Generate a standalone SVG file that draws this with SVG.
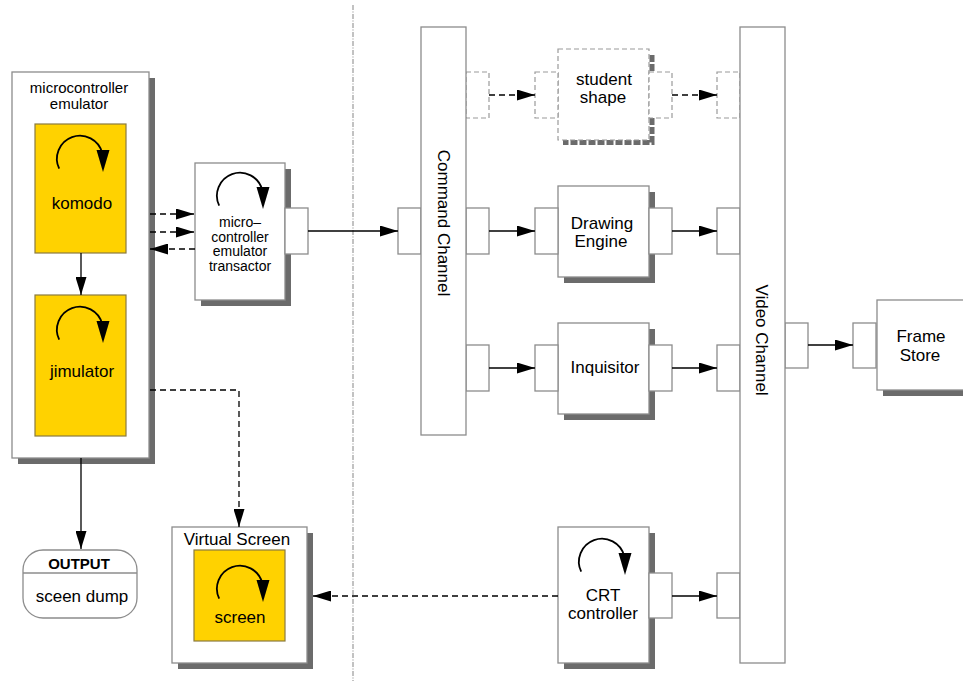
<svg xmlns="http://www.w3.org/2000/svg" width="963" height="681" viewBox="0 0 963 681">
<defs>
<style>
text{font-family:"Liberation Sans",Arial,Helvetica,sans-serif;fill:#000}
.box{fill:#fff;stroke:#8c8c8c;stroke-width:1.3}
.shadow{fill:#6b6b6b}
.yellow{fill:#FFD200;stroke:#8a7b40;stroke-width:1.2}
.port{fill:#fff;stroke:#8c8c8c;stroke-width:1.3}
.dport{fill:#fff;stroke:#9a9a9a;stroke-width:1.2;stroke-dasharray:5 3}
.conn{stroke:#000;stroke-width:1.3;fill:none}
.dconn{stroke:#000;stroke-width:1.3;fill:none;stroke-dasharray:6 4}
.t17{font-size:17px;text-anchor:middle}
.t15{font-size:15px;text-anchor:middle}
.t14{font-size:14px;text-anchor:middle}
.cyc{fill:none;stroke:#000;stroke-width:1.8}
</style>
<marker id="arr" markerUnits="userSpaceOnUse" markerWidth="18" markerHeight="11" refX="18" refY="5.5" orient="auto">
<path d="M0,0 L18,5.5 L0,11 z" fill="#000"/>
</marker>
<g id="cycle">
<path class="cyc" d="M-20.8,9.7 A23,23 0 1 1 22.2,-6"/>
<path d="M16.5,-9 L29.5,-9 L23,13 z" fill="#000"/>
</g>
</defs>
<rect width="963" height="681" fill="#fff"/>

<line x1="353" y1="5" x2="353" y2="681" stroke="#9a9a9a" stroke-width="1.2" stroke-dasharray="5 1.5 1 1.5"/>

<g id="microcontroller-emulator">
<rect class="shadow" x="18" y="78" width="137" height="386"/>
<rect class="box" x="12" y="72" width="137" height="386"/>
<text class="t15" x="79" y="93">microcontroller</text>
<text class="t15" x="79" y="109">emulator</text>
</g>
<g id="komodo">
<rect class="yellow" x="35" y="124" width="91" height="129"/>
<use href="#cycle" x="80" y="159"/>
<text class="t17" x="82" y="209">komodo</text>
</g>
<g id="jimulator">
<rect class="yellow" x="35" y="295" width="91" height="141"/>
<use href="#cycle" x="80" y="330"/>
<text class="t17" x="82" y="377">jimulator</text>
</g>

<g id="output">
<rect class="box" x="23" y="550" width="114" height="68" rx="20" ry="20"/>
<line x1="23" y1="573" x2="137" y2="573" stroke="#8c8c8c" stroke-width="1.3"/>
<text x="79" y="569" font-size="15" font-weight="bold" text-anchor="middle">OUTPUT</text>
<text class="t17" x="82" y="602">sceen dump</text>
</g>

<g id="transactor">
<rect class="shadow" x="201" y="169" width="90" height="137"/>
<rect class="box" x="195" y="163" width="90" height="137"/>
<rect class="port" x="285" y="208" width="23" height="46"/>
<use href="#cycle" x="240" y="196"/>
<text class="t14" x="240" y="227">micro–</text>
<text class="t14" x="240" y="241.5">controller</text>
<text class="t14" x="240" y="256">emulator</text>
<text class="t14" x="240" y="270.5">transactor</text>
</g>

<g id="virtual-screen">
<rect class="shadow" x="178" y="533" width="135" height="136"/>
<rect class="box" x="172" y="527" width="135" height="136"/>
<text class="t17" x="237" y="545">Virtual Screen</text>
<rect class="yellow" x="194" y="550" width="91" height="91"/>
<use href="#cycle" x="240" y="589"/>
<text class="t17" x="240" y="623">screen</text>
</g>

<g id="command-channel">
<rect class="port" x="398" y="208" width="23" height="46"/>
<rect class="dport" x="466" y="72" width="23" height="46"/>
<rect class="port" x="466" y="208" width="23" height="46"/>
<rect class="port" x="466" y="345" width="23" height="46"/>
<rect class="box" x="421" y="27" width="45" height="408"/>
<text class="t17" transform="translate(438,223) rotate(90)">Command Channel</text>
</g>

<g id="student-shape">
<path d="M652,55 V142.5 H563" fill="none" stroke="#6b6b6b" stroke-width="5" stroke-dasharray="7 2"/>
<rect class="dport" x="558" y="49" width="91" height="91"/>
<rect class="dport" x="535" y="72" width="23" height="46"/>
<rect class="dport" x="649" y="72" width="23" height="46"/>
<text class="t17" x="604" y="85">student</text>
<text class="t17" x="603" y="103">shape</text>
</g>

<g id="drawing-engine">
<rect class="shadow" x="564" y="192" width="91" height="91"/>
<rect class="box" x="558" y="186" width="91" height="91"/>
<rect class="port" x="535" y="208" width="23" height="46"/>
<rect class="port" x="649" y="208" width="23" height="46"/>
<text class="t17" x="602" y="229">Drawing</text>
<text class="t17" x="601" y="247">Engine</text>
</g>

<g id="inquisitor">
<rect class="shadow" x="564" y="329" width="91" height="91"/>
<rect class="box" x="558" y="323" width="91" height="91"/>
<rect class="port" x="535" y="345" width="23" height="46"/>
<rect class="port" x="649" y="345" width="23" height="46"/>
<text class="t17" x="605" y="373">Inquisitor</text>
</g>

<g id="crt-controller">
<rect class="shadow" x="564" y="533" width="91" height="136"/>
<rect class="box" x="558" y="527" width="91" height="136"/>
<rect class="port" x="649" y="573" width="23" height="45"/>
<use href="#cycle" x="602" y="562"/>
<text class="t17" x="603" y="601">CRT</text>
<text class="t17" x="603" y="619">controller</text>
</g>

<g id="video-channel">
<rect class="dport" x="717" y="72" width="23" height="46"/>
<rect class="port" x="717" y="208" width="23" height="46"/>
<rect class="port" x="717" y="345" width="23" height="46"/>
<rect class="port" x="717" y="573" width="23" height="45"/>
<rect class="port" x="785" y="323" width="23" height="45"/>
<rect class="box" x="740" y="27" width="45" height="636"/>
<text class="t17" transform="translate(756,340) rotate(90)">Video Channel</text>
</g>

<g id="frame-store">
<rect class="shadow" x="883" y="306" width="91" height="90"/>
<rect class="box" x="877" y="300" width="91" height="90"/>
<rect class="port" x="853" y="323" width="23" height="45"/>
<text class="t17" x="921" y="342">Frame</text>
<text class="t17" x="920" y="361">Store</text>
</g>

<g id="connectors">
<path class="conn" d="M81,253 V295" marker-end="url(#arr)"/>
<path class="conn" d="M81,458 V549" marker-end="url(#arr)"/>
<path class="dconn" d="M150,214 H194" marker-end="url(#arr)"/>
<path class="dconn" d="M150,232 H194" marker-end="url(#arr)"/>
<path class="dconn" d="M195,249 H150" marker-end="url(#arr)"/>
<path class="dconn" d="M150,390 H239 V527" marker-end="url(#arr)"/>
<path class="dconn" d="M558,596 H313" marker-end="url(#arr)"/>
<path class="conn" d="M308,231 H398" marker-end="url(#arr)"/>
<path class="dconn" d="M489,95 H535" marker-end="url(#arr)"/>
<path class="dconn" d="M672,95 H717" marker-end="url(#arr)"/>
<path class="conn" d="M489,231 H535" marker-end="url(#arr)"/>
<path class="conn" d="M672,231 H717" marker-end="url(#arr)"/>
<path class="conn" d="M489,368 H535" marker-end="url(#arr)"/>
<path class="conn" d="M672,368 H717" marker-end="url(#arr)"/>
<path class="conn" d="M672,596 H717" marker-end="url(#arr)"/>
<path class="conn" d="M808,345 H853" marker-end="url(#arr)"/>
</g>
</svg>
